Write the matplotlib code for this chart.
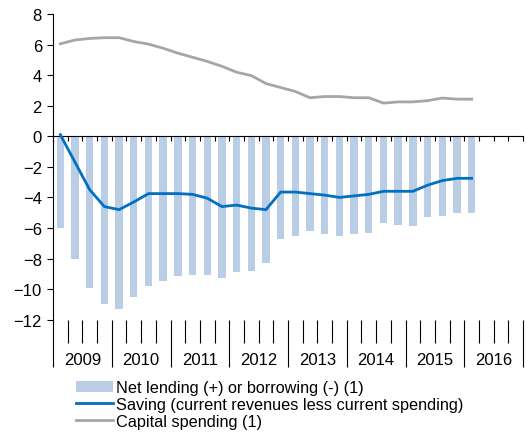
import numpy as np
from matplotlib import pyplot as plt
from matplotlib.lines import Line2D
from matplotlib.patches import Patch

plt.rcParams['font.family'] = ['Liberation Sans', 'DejaVu Sans']
plt.rcParams['font.size'] = 12

# quarterly data, 2009Q1 .. 2016Q1 (% of GDP)
years = ['2009', '2010', '2011', '2012', '2013', '2014', '2015', '2016']
net_lending = [-6.0, -8.0, -9.9, -11.0, -11.3, -10.5, -9.8, -9.5,
               -9.15, -9.05, -9.05, -9.3, -8.85, -8.8, -8.3, -6.75,
               -6.5, -6.2, -6.4, -6.55, -6.4, -6.3, -5.7, -5.8,
               -5.85, -5.3, -5.2, -5.0, -5.0]
saving = [0.1, -1.7, -3.5, -4.6, -4.8, -4.3, -3.75, -3.75,
          -3.75, -3.8, -4.05, -4.6, -4.5, -4.7, -4.8, -3.65,
          -3.65, -3.75, -3.85, -4.0, -3.9, -3.8, -3.6, -3.6,
          -3.6, -3.2, -2.9, -2.75, -2.75]
capital_spending = [6.05, 6.3, 6.4, 6.45, 6.45, 6.2, 6.03, 5.76,
                    5.44, 5.17, 4.9, 4.58, 4.19, 3.97, 3.45, 3.19,
                    2.93, 2.52, 2.6, 2.6, 2.52, 2.52, 2.17, 2.25,
                    2.25, 2.33, 2.5, 2.43, 2.43]

BAR_COLOR = '#B9CDE5'
SAVING_COLOR = '#0070C0'
CAPITAL_COLOR = '#A6A6A6'

n_quarters = len(years) * 4
x = np.arange(len(net_lending)) + 0.5

fig = plt.figure(figsize=(5.26, 4.35), dpi=100)
ax = fig.add_axes([53 / 526, 1 - 320.7 / 435, 470 / 526, 305.7 / 435])

ax.bar(x, net_lending, width=0.5, color=BAR_COLOR, zorder=1)
ax.plot(x, saving, color=SAVING_COLOR, lw=2, zorder=3)
ax.plot(x, capital_spending, color=CAPITAL_COLOR, lw=2, zorder=3)

ax.set_xlim(0, n_quarters)
ax.set_ylim(-12, 8)
ax.set_yticks(np.arange(-12, 9, 2))
ax.tick_params(axis='y', direction='out', length=4, width=0.8, pad=4)

for side in ['top', 'right']:
    ax.spines[side].set_visible(False)
ax.spines['bottom'].set_position(('data', 0))
ax.set_xticks(np.arange(0, n_quarters + 1))
ax.set_xticklabels([])
ax.tick_params(axis='x', direction='out', length=3.5, width=0.8)

# category axis below the plot: quarter ticks, year separators and labels
sec = ax.secondary_xaxis(0)
sec.spines['bottom'].set_visible(False)
sec.set_xticks(np.arange(0, n_quarters + 1, 4))
sec.set_xticks([q for q in range(n_quarters) if q % 4], minor=True)
sec.set_xticklabels([])
sec.tick_params(which='major', direction='out', length=34, width=0.8)
sec.tick_params(which='minor', direction='out', length=16.5, width=0.8)
for i, year in enumerate(years):
    ax.text(i * 4 + 2, -0.13, year, transform=ax.get_xaxis_transform(),
            ha='center', va='center', fontsize=12)

handles = [Patch(facecolor=BAR_COLOR, edgecolor='none'),
           Line2D([], [], color=SAVING_COLOR, lw=2),
           Line2D([], [], color=CAPITAL_COLOR, lw=2)]
labels = ['Net lending (+) or borrowing (-) (1)',
          'Saving (current revenues less current spending)',
          'Capital spending (1)']
fig.legend(handles, labels, loc='upper left',
           bbox_to_anchor=(76 / 526, 1 - 381 / 435),
           frameon=False, borderpad=0, borderaxespad=0,
           handlelength=2.3, handletextpad=0.15, labelspacing=0.12,
           fontsize=11.7)

fig.savefig('out.png', dpi=100)
